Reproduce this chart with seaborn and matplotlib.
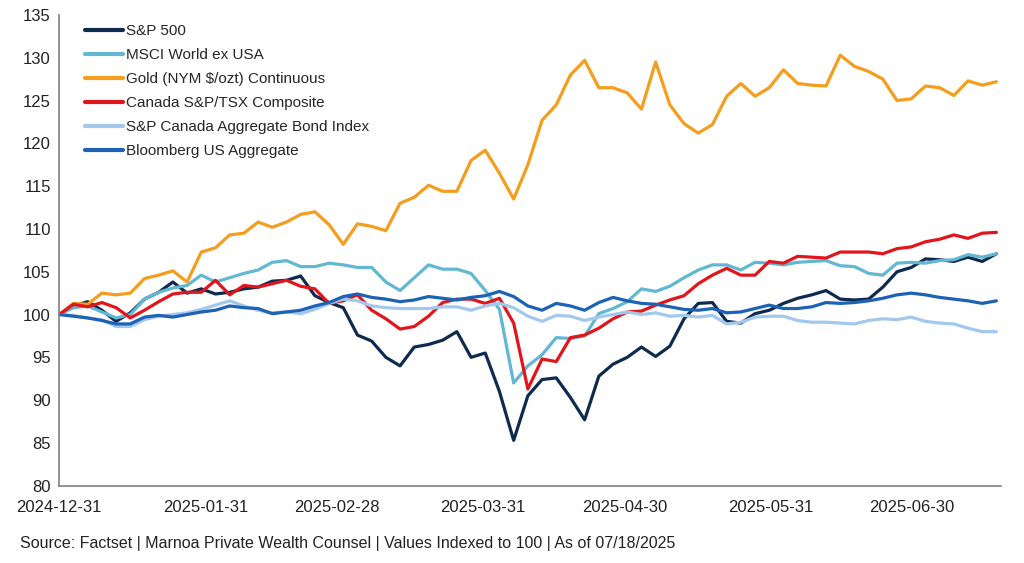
import numpy as np
import pandas as pd
import seaborn as sns
import matplotlib.pyplot as plt
import matplotlib.dates as mdates

sns.set_style("white")
plt.rcParams['font.family'] = ['Liberation Sans', 'DejaVu Sans']

# sampled roughly every 3 days, 2024-12-31 .. 2025-07-18
dates = pd.date_range("2024-12-31", "2025-07-18", periods=67)

sp500 = [100.0, 101.0, 101.5, 100.5, 99.2, 100.2, 101.8, 102.6, 103.8, 102.5,
         103.0, 102.4, 102.6, 103.0, 103.2, 103.9, 104.0, 104.5, 102.2, 101.4,
         100.8, 97.6, 96.9, 95.0, 94.0, 96.2, 96.5, 97.0, 98.0, 95.0,
         95.5, 91.0, 85.3, 90.5, 92.4, 92.6, 90.3, 87.7, 92.8, 94.2,
         95.0, 96.2, 95.1, 96.3, 99.5, 101.3, 101.4, 99.2, 99.0, 100.1,
         100.5, 101.3, 101.9, 102.3, 102.8, 101.8, 101.7, 101.8, 103.2, 105.0,
         105.5, 106.5, 106.4, 106.2, 106.7, 106.2, 107.1]

msci = [100.0, 100.8, 101.0, 100.3, 99.6, 100.0, 101.8, 102.6, 103.1, 103.4,
        104.6, 103.8, 104.3, 104.8, 105.2, 106.1, 106.3, 105.6, 105.6, 106.0,
        105.8, 105.5, 105.5, 103.8, 102.8, 104.3, 105.8, 105.3, 105.3, 104.8,
        102.8, 100.6, 92.0, 94.0, 95.3, 97.3, 97.2, 97.5, 100.1, 100.7,
        101.5, 103.0, 102.7, 103.3, 104.3, 105.2, 105.8, 105.8, 105.2, 106.1,
        106.0, 105.8, 106.1, 106.2, 106.3, 105.7, 105.6, 104.8, 104.6, 106.0,
        106.1, 106.0, 106.3, 106.4, 107.0, 106.7, 107.1]

gold = [100.0, 101.3, 101.2, 102.5, 102.3, 102.5, 104.2, 104.6, 105.1, 103.8,
        107.3, 107.8, 109.3, 109.5, 110.8, 110.2, 110.8, 111.7, 112.0, 110.5,
        108.2, 110.6, 110.3, 109.8, 113.0, 113.7, 115.1, 114.4, 114.4, 118.0,
        119.2, 116.5, 113.5, 117.5, 122.7, 124.5, 128.0, 129.7, 126.5, 126.5,
        125.9, 124.0, 129.5, 124.5, 122.3, 121.2, 122.2, 125.5, 127.0, 125.5,
        126.5, 128.6, 127.0, 126.8, 126.7, 130.3, 129.0, 128.4, 127.5, 125.0,
        125.2, 126.7, 126.5, 125.6, 127.3, 126.8, 127.2]

tsx = [100.0, 101.2, 100.9, 101.4, 100.8, 99.6, 100.5, 101.5, 102.4, 102.6,
       102.6, 104.0, 102.3, 103.4, 103.2, 103.6, 104.0, 103.3, 103.0, 101.3,
       101.6, 102.3, 100.5, 99.5, 98.3, 98.6, 99.8, 101.4, 101.8, 101.8,
       101.3, 101.9, 99.0, 91.3, 94.8, 94.5, 97.3, 97.6, 98.4, 99.5,
       100.3, 100.4, 101.1, 101.7, 102.2, 103.6, 104.6, 105.4, 104.6, 104.6,
       106.2, 106.0, 106.8, 106.7, 106.6, 107.3, 107.3, 107.3, 107.1, 107.7,
       107.9, 108.5, 108.8, 109.3, 108.9, 109.5, 109.6]

cad_bond = [100.0, 99.9, 99.6, 99.4, 98.6, 98.6, 99.4, 99.8, 100.0, 100.2,
            100.6, 101.1, 101.6, 101.0, 100.5, 100.2, 100.3, 100.1, 100.6, 101.3,
            101.8, 101.6, 101.0, 100.8, 100.7, 100.7, 100.7, 100.9, 100.9, 100.5,
            101.0, 101.3, 100.8, 99.8, 99.2, 99.9, 99.8, 99.3, 99.7, 100.0,
            100.3, 100.0, 100.2, 99.8, 99.9, 99.7, 99.9, 98.9, 99.1, 99.7,
            99.8, 99.8, 99.3, 99.1, 99.1, 99.0, 98.9, 99.3, 99.5, 99.4,
            99.7, 99.2, 99.0, 98.9, 98.4, 98.0, 98.0]

us_agg = [100.0, 99.8, 99.6, 99.3, 98.9, 98.9, 99.7, 99.9, 99.7, 100.0,
          100.3, 100.5, 101.0, 100.8, 100.7, 100.1, 100.3, 100.5, 101.0, 101.4,
          102.1, 102.4, 102.0, 101.8, 101.5, 101.7, 102.1, 101.9, 101.7, 102.0,
          102.2, 102.7, 102.1, 101.0, 100.5, 101.3, 101.0, 100.5, 101.4, 102.0,
          101.6, 101.3, 101.2, 100.9, 100.6, 100.5, 100.7, 100.2, 100.3, 100.7,
          101.1, 100.7, 100.7, 100.9, 101.4, 101.3, 101.4, 101.6, 101.9, 102.3,
          102.5, 102.3, 102.0, 101.8, 101.6, 101.3, 101.6]

names = ["S&P 500", "MSCI World ex USA", "Gold (NYM $/ozt) Continuous",
         "Canada S&P/TSX Composite", "S&P Canada Aggregate Bond Index",
         "Bloomberg US Aggregate"]
colors = ["#0E2A4F", "#62B7D3", "#F59D1C", "#E3151C", "#A3C8EE", "#1E62B6"]

df = pd.concat([pd.DataFrame({"date": dates, "value": v, "series": n})
                for n, v in zip(names, [sp500, msci, gold, tsx, cad_bond, us_agg])])

fig = plt.figure(figsize=(10.24, 5.63), dpi=100)
ax = fig.add_axes([0.0579, 0.1373, 0.9193, 0.8361])

sns.lineplot(data=df, x="date", y="value", hue="series", hue_order=names,
             palette=dict(zip(names, colors)), linewidth=2.3, ax=ax, legend=True)

start = pd.Timestamp("2024-12-31")
ax.set_xlim(start, start + pd.Timedelta(days=199.9))
ax.set_ylim(80, 135)
ax.set_yticks(np.arange(80, 136, 5))
month_ends = pd.date_range("2024-12-31", "2025-06-30", freq="ME")
ax.set_xticks(month_ends)
ax.xaxis.set_major_formatter(mdates.DateFormatter("%Y-%m-%d"))
ax.set_xlabel("")
ax.set_ylabel("")

for s in ["top", "right"]:
    ax.spines[s].set_visible(False)
for s in ["left", "bottom"]:
    ax.spines[s].set_color("#808080")
    ax.spines[s].set_linewidth(1.2)
ax.tick_params(axis="both", labelsize=12, labelcolor="#222222", color="#808080",
               length=5, width=1.2, direction="out")
ax.tick_params(axis="y", pad=1)
ax.tick_params(axis="x", pad=5)

ax.legend(loc="upper left", bbox_to_anchor=(0.027, 0.98), frameon=False,
          fontsize=11, handlelength=2.5, handletextpad=0.2, labelspacing=0.65,
          borderpad=0, borderaxespad=0)
for line in ax.get_legend().get_lines():
    line.set_linewidth(3)

fig.text(0.0195, 0.026, "Source: Factset | Marnoa Private Wealth Counsel | "
         "Values Indexed to 100 | As of 07/18/2025", fontsize=11.5, color="#222222")

fig.savefig("out.png", dpi=100)
